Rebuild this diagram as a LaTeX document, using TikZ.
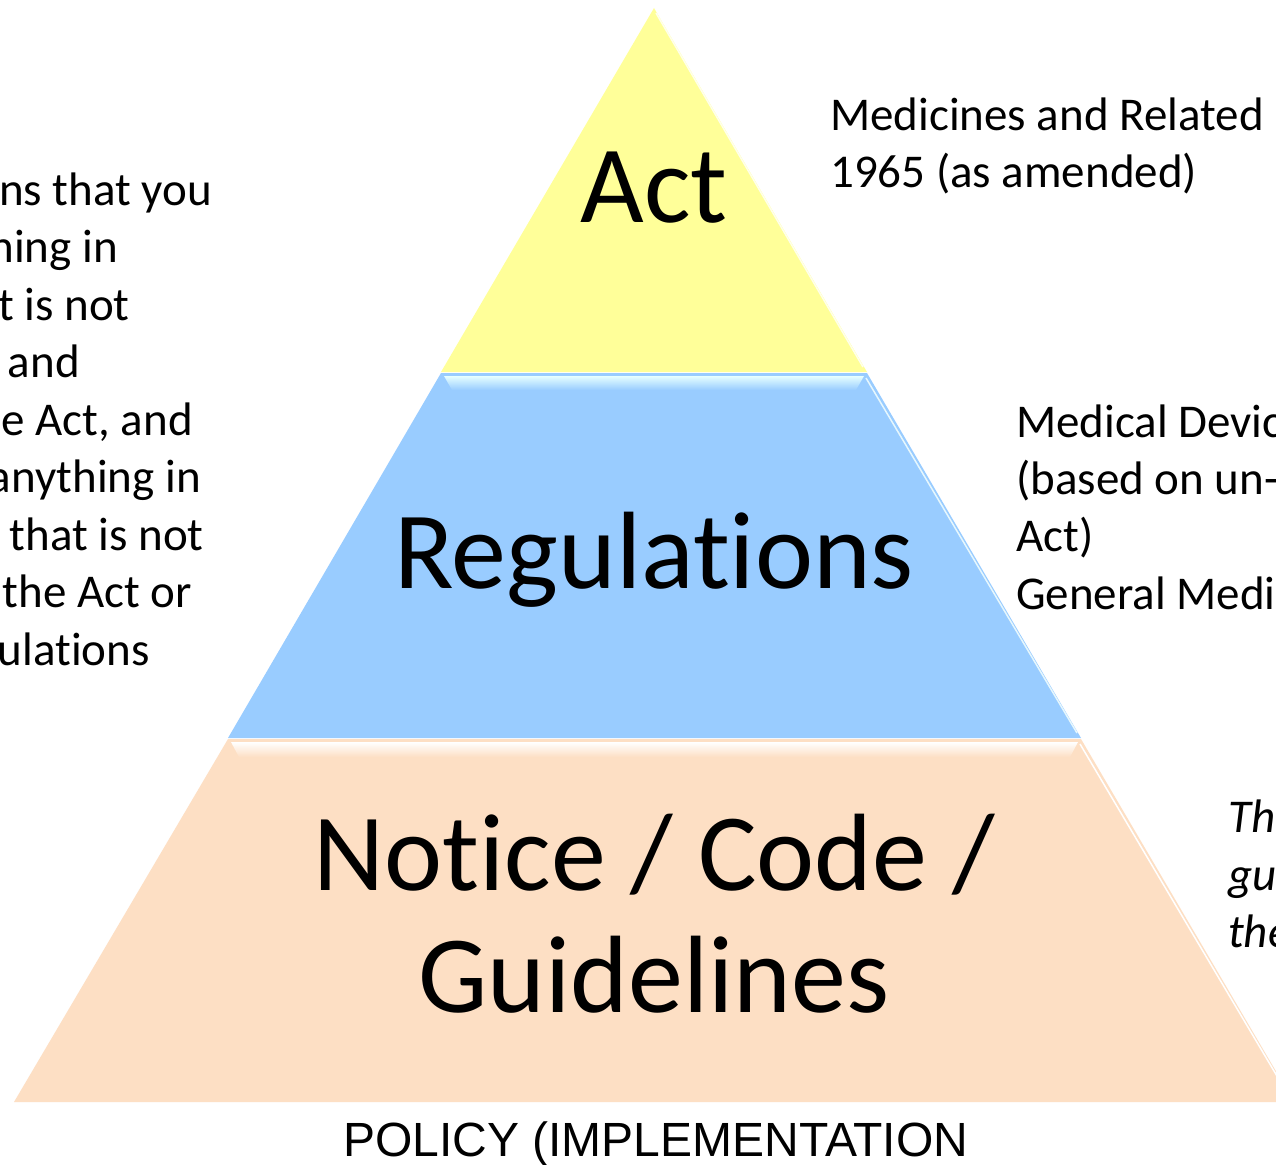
\documentclass[tikz,border=0pt]{standalone}
\usepackage{fontspec}
\setmainfont{Carlito}[Ligatures=NoCommon]
\newfontfamily\arialfont{Liberation Sans}
\definecolor{actyellow}{RGB}{255,255,153}
\definecolor{regblue}{RGB}{153,204,255}
\definecolor{notepeach}{RGB}{253,223,196}
\tikzset{
  big/.style={font=\fontsize{110}{122}\selectfont, inner sep=0},
  note/.style={font=\fontsize{47}{57}\selectfont, inner sep=0},
}
\begin{document}
\begin{tikzpicture}[x=1pt,y=-1pt]
\clip (0,0) rectangle (1276,1164);
\fill[white] (0,0) rectangle (1276,1164);
% the three tiers
\fill[actyellow] (654,8) -- (867,372) -- (441,372) -- cycle;
\fill[regblue] (441,373) -- (867,373) -- (1081,738) -- (228,738) -- cycle;
\fill[notepeach] (228,739) -- (1081,739) -- (1294,1102) -- (14,1102) -- cycle;
\shade[top color=cyan!10!white, bottom color=regblue] (444,376) -- (864,376) -- (856,390) -- (452,390) -- cycle;
\shade[top color=white, bottom color=notepeach] (231,742) -- (1078,742) -- (1070,757) -- (239,757) -- cycle;
\draw[white, line width=1.5pt, opacity=.8] (656,13) -- (863,367);
\draw[cyan!10!white, line width=1.5pt] (866,378) -- (1077,733);
\draw[white, line width=1.5pt] (1080,744) -- (1290,1098);
\node[big, anchor=base] (act) at (654,222) {Act};
\node[big, anchor=base] (regs) at (654,588) {Regulations};
\node[big, anchor=base] (notice) at (654,890) {Notice / Code /};
\node[big, anchor=base] (guide) at (654,1012) {Guidelines};
% side notes
\foreach \x/\t [count=\i] in {212/ns that you, 118/hing in, 130/t is not, 80/and, 193/{e Act, and}, 201/anything in, 204/that is not, 192/the Act or, 150/ulations}
  \node[note, anchor=base east] (left\i) at (\x,{147.5+57.5*\i}) {\t};
\foreach \t [count=\i] in {Medicines and Related, 1965 (as amended)}
  \node[note, anchor=base west] (act\i) at (830,{73+57*\i}) {\t};
\foreach \t [count=\i] in {{Medical Devic}, {(based on un-}, {Act)}, {General Medi}}
  \node[note, anchor=base west] (regs\i) at (1016,{380+57.3*\i}) {\t};
\foreach \t [count=\i] in {Th, gu, the}
  \node[note, font=\fontsize{47}{57}\selectfont\itshape, anchor=base west] (guide\i) at (1228,{775+57.5*\i}) {\t};
\node[font=\arialfont\fontsize{48}{58}\selectfont, anchor=base west, inner sep=0] (policy) at (343,1156) {POLICY (IMPLEMENTATION};
\end{tikzpicture}
\end{document}
